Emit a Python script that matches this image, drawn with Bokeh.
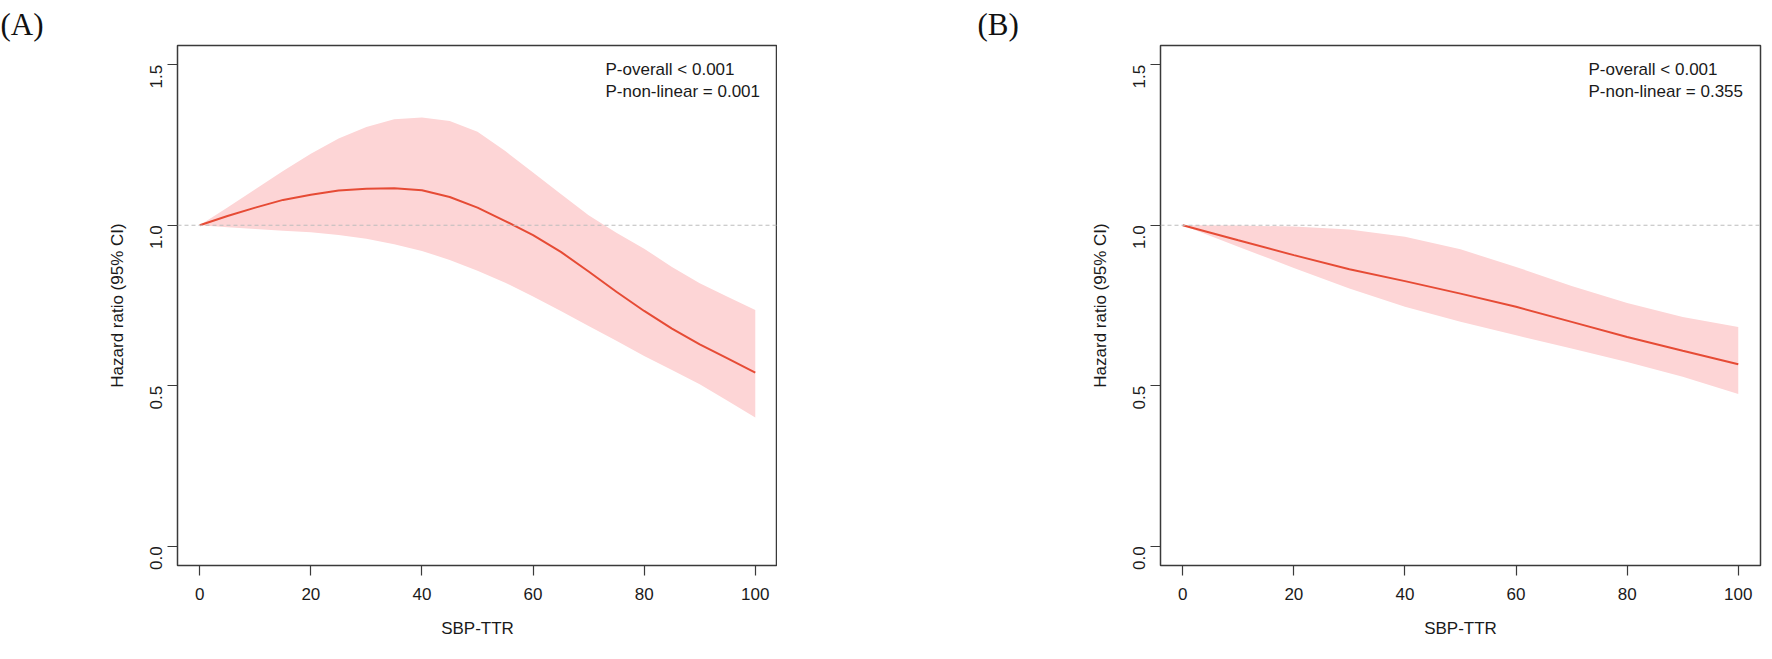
import math
from bokeh.plotting import figure
from bokeh.layouts import row
from bokeh.models import Span, Label, FixedTicker, Range1d, PrintfTickFormatter
from bokeh.embed import file_html
from bokeh.resources import INLINE

# ---------------- data ----------------
# Panel A
sbp_ttr_a = [0, 5, 10, 15, 20, 25, 30, 35, 40, 45, 50, 55, 60, 65, 70, 75, 80, 85, 90, 95, 100]
hr_a = [1.000, 1.029, 1.055, 1.079, 1.095, 1.108, 1.114, 1.115, 1.109, 1.088, 1.055,
        1.013, 0.969, 0.917, 0.856, 0.793, 0.733, 0.678, 0.629, 0.585, 0.541]
upper_a = [1.000, 1.055, 1.112, 1.169, 1.223, 1.270, 1.306, 1.330, 1.336, 1.325, 1.291,
           1.231, 1.164, 1.097, 1.031, 0.977, 0.927, 0.870, 0.819, 0.777, 0.736]
lower_a = [1.000, 0.994, 0.988, 0.983, 0.978, 0.970, 0.958, 0.941, 0.920, 0.892, 0.858,
           0.821, 0.778, 0.733, 0.686, 0.640, 0.593, 0.549, 0.505, 0.453, 0.401]

# Panel B
sbp_ttr_b = [0, 10, 20, 30, 40, 50, 60, 70, 80, 90, 100]
hr_b = [1.000, 0.953, 0.907, 0.863, 0.826, 0.787, 0.746, 0.699, 0.652, 0.609, 0.567]
upper_b = [1.000, 0.999, 0.996, 0.987, 0.964, 0.925, 0.870, 0.811, 0.758, 0.714, 0.683]
lower_b = [1.000, 0.933, 0.867, 0.803, 0.746, 0.699, 0.657, 0.616, 0.574, 0.528, 0.474]

x_ticks = [0, 20, 40, 60, 80, 100]
y_ticks = [0.0, 0.5, 1.0, 1.5]
reference_hr = 1.0
panel_labels = ["(A)", "(B)"]
p_overall = ["P-overall < 0.001", "P-overall < 0.001"]
p_nonlinear = ["P-non-linear = 0.001", "P-non-linear = 0.355"]
x_title = "SBP-TTR"
y_title = "Hazard ratio (95% CI)"

# ---------------- style ----------------
FILL = "#FDD5D6"
LINE = "#E64B35"
BOX = "#3a3a3a"
TXT = "#1a1a1a"
SANS = "Liberation Sans"
SERIF = "Liberation Serif"


def make_panel(x, hr, lo, up, tag, p1, p2, border_left, border_right, tag_offset):
    p = figure(frame_width=600, frame_height=520,
               x_range=Range1d(-4, 104), y_range=Range1d(-0.06, 1.56),
               output_backend="svg", toolbar_location=None,
               min_border_left=border_left, min_border_right=border_right,
               min_border_top=45, min_border_bottom=78)
    p.background_fill_color = "white"
    p.border_fill_color = "white"
    p.grid.visible = False
    p.outline_line_color = BOX
    p.outline_line_width = 1.5
    p.outline_line_alpha = 1.0

    p.title.text = tag
    p.title.text_font = SERIF
    p.title.text_font_size = "31px"
    p.title.text_font_style = "normal"
    p.title.text_color = "#111111"
    p.title.align = "left"
    p.title.offset = tag_offset
    p.title.standoff = 8

    p.varea(x=x, y1=lo, y2=up, fill_color=FILL, fill_alpha=1.0)
    p.line(x, hr, line_color=LINE, line_width=2)
    p.add_layout(Span(location=reference_hr, dimension="width", line_color="#BDBDBD",
                      line_dash="4 3", line_width=1.2))

    for ax in (p.xaxis[0], p.yaxis[0]):
        ax.axis_line_color = None
        ax.major_tick_out = 10
        ax.major_tick_in = 0
        ax.minor_tick_line_color = None
        ax.major_tick_line_color = BOX
        ax.major_tick_line_width = 1.2
        ax.major_label_text_font = SANS
        ax.major_label_text_font_size = "17px"
        ax.major_label_text_color = TXT
        ax.axis_label_text_font = SANS
        ax.axis_label_text_font_size = "17px"
        ax.axis_label_text_font_style = "normal"
        ax.axis_label_text_color = TXT

    p.xaxis.ticker = FixedTicker(ticks=x_ticks, minor_ticks=[])
    p.yaxis.ticker = FixedTicker(ticks=y_ticks, minor_ticks=[])
    p.yaxis.formatter = PrintfTickFormatter(format="%.1f")
    p.yaxis.major_label_orientation = math.pi / 2
    p.xaxis.axis_label = x_title
    p.yaxis.axis_label = y_title
    p.xaxis.major_label_standoff = 12
    p.xaxis.axis_label_standoff = 16
    p.yaxis.major_label_standoff = 11
    p.yaxis.axis_label_standoff = 15

    p.add_layout(Label(x=428, y=496, x_units="screen", y_units="screen", text=p1,
                       text_font=SANS, text_font_size="17px", text_color=TXT,
                       text_baseline="middle", text_align="left"))
    p.add_layout(Label(x=428, y=474, x_units="screen", y_units="screen", text=p2,
                       text_font=SANS, text_font_size="17px", text_color=TXT,
                       text_baseline="middle", text_align="left"))
    return p


pa = make_panel(sbp_ttr_a, hr_a, lower_a, upper_a, panel_labels[0], p_overall[0], p_nonlinear[0],
                border_left=177, border_right=0, tag_offset=-177)
pb = make_panel(sbp_ttr_b, hr_b, lower_b, upper_b, panel_labels[1], p_overall[1], p_nonlinear[1],
                border_left=383, border_right=2, tag_offset=-183)

layout = row(pa, pb, spacing=0)
open("out.html", "w").write(file_html(layout, INLINE))
